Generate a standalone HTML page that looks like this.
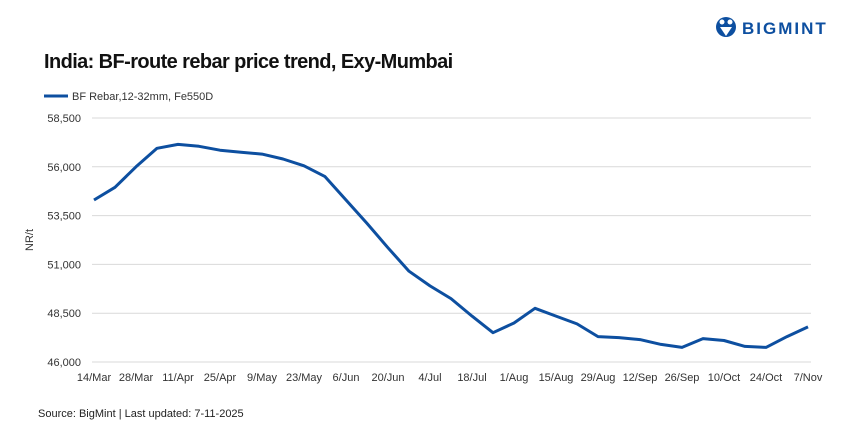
<!DOCTYPE html>
<html><head><meta charset="utf-8"><style>
body{margin:0;background:#fff;font-family:"Liberation Sans",Arial,sans-serif}
</style></head><body>
<svg width="864" height="432" xmlns="http://www.w3.org/2000/svg" font-family="Liberation Sans, Arial, sans-serif">
<g>
<circle cx="726" cy="27" r="10" fill="#0d4fa0"/>
<circle cx="722" cy="22" r="2.5" fill="#fff"/><circle cx="730" cy="22" r="2.5" fill="#fff"/>
<path d="M720 27 L726 36 L732 27 Z" fill="#fff"/>
<text x="742" y="34" font-size="17" font-weight="bold" fill="#0d4fa0" letter-spacing="2">BIGMINT</text>
</g>
<text x="44" y="68" font-size="20" font-weight="bold" fill="#111" letter-spacing="-0.6">India: BF-route rebar price trend, Exy-Mumbai</text>
<g>
<line x1="44" y1="96" x2="68" y2="96" stroke="#0d4fa0" stroke-width="3"/>
<text x="72" y="100" font-size="11" fill="#333">BF Rebar,12-32mm, Fe550D</text>
</g>
<text transform="translate(33,240) rotate(-90)" font-size="11" fill="#333" text-anchor="middle">NR/t</text>
<g id="grid"></g><g id="ylab"></g><g id="xlab"></g>
<path id="line" fill="none" stroke="#0d4fa0" stroke-width="3" stroke-linejoin="round"/>
<text x="38" y="417" font-size="11" fill="#222">Source: BigMint | Last updated: 7-11-2025</text>
</svg>
<script>
const values=[54300,54950,56000,56950,57150,57050,56850,56750,56650,56400,56050,55500,54300,53100,51850,50650,49900,49250,48350,47500,48000,48750,48350,47950,47300,47250,47150,46900,46750,47200,47100,46800,46750,47300,47800];
const xLabels=["14/Mar","28/Mar","11/Apr","25/Apr","9/May","23/May","6/Jun","20/Jun","4/Jul","18/Jul","1/Aug","15/Aug","29/Aug","12/Sep","26/Sep","10/Oct","24/Oct","7/Nov"];
const yTicks=[46000,48500,51000,53500,56000,58500];
const NS="http://www.w3.org/2000/svg";
const x0=94,x1=808,yMin=46000,yMax=58500,py0=362,py1=118;
const xs=i=>x0+(x1-x0)*i/(values.length-1);
const ys=v=>py0-(v-yMin)/(yMax-yMin)*(py0-py1);
const grid=document.getElementById('grid'),ylab=document.getElementById('ylab'),xlab=document.getElementById('xlab');
yTicks.forEach(t=>{
 const l=document.createElementNS(NS,'line');
 l.setAttribute('x1',92);l.setAttribute('x2',811);l.setAttribute('y1',ys(t));l.setAttribute('y2',ys(t));
 l.setAttribute('stroke','#d9d9d9');l.setAttribute('stroke-width','1');
 
 
 grid.appendChild(l);
 const tx=document.createElementNS(NS,'text');
 tx.setAttribute('x',81);tx.setAttribute('y',ys(t)+4);tx.setAttribute('text-anchor','end');
 tx.setAttribute('font-size','11');tx.setAttribute('fill','#333');
 tx.textContent=t.toLocaleString('en-US');
 
 
 ylab.appendChild(tx);
});
xLabels.forEach((s,i)=>{
 const tx=document.createElementNS(NS,'text');
 tx.setAttribute('x',xs(i*2));tx.setAttribute('y',381);tx.setAttribute('text-anchor','middle');
 tx.setAttribute('font-size','11');tx.setAttribute('fill','#333');
 tx.textContent=s;
 
 
 xlab.appendChild(tx);
});
document.getElementById('line').setAttribute('d',values.map((v,i)=>(i?'L':'M')+xs(i).toFixed(1)+' '+ys(v).toFixed(1)).join(' '));
</script>
</body></html>
